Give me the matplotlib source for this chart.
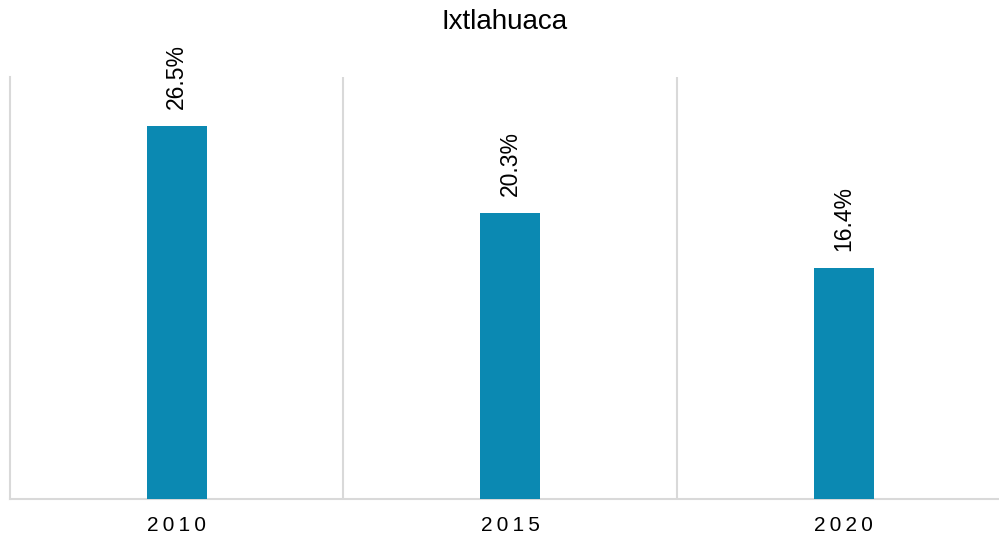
import matplotlib.pyplot as plt

anios = ['2010', '2015', '2020']
porcentajes = [26.5, 20.3, 16.4]

plt.rcParams['font.family'] = ['Liberation Sans', 'DejaVu Sans']

fig = plt.figure(figsize=(9.99, 5.41), dpi=100)
ax = fig.add_axes([10 / 999, 1 - 499 / 541, 1000.5 / 999, (499 - 77) / 541])

x = range(len(anios))
barras = ax.bar(x, porcentajes, width=0.18, color='#0B89B2', zorder=3)

for b, v in zip(barras, porcentajes):
    ax.annotate(f'{v}%', (b.get_x() + b.get_width() / 2, v),
                xytext=(0, 12.5), textcoords='offset points',
                rotation=90, ha='center', va='bottom', fontsize=16.5)

ax.set_xlim(-0.5, 2.5)
ax.set_ylim(0, 30)
ax.set_xticks(list(x))
ax.set_xticklabels(['\u2009'.join(a) for a in anios], fontsize=15)
ax.set_yticks([])
ax.set_xticks([0.5, 1.5], minor=True)
ax.grid(True, which='minor', axis='x', color='#D9D9D9', linewidth=1.5, zorder=0)
ax.tick_params(axis='x', which='both', length=0, pad=12)

for lado in ['top', 'right']:
    ax.spines[lado].set_visible(False)
for lado in ['left', 'bottom']:
    ax.spines[lado].set_color('#D9D9D9')
    ax.spines[lado].set_linewidth(1.5)

fig.suptitle('Ixtlahuaca', fontsize=20, x=0.505, y=0.984)

plt.savefig('out.png', dpi=100)
